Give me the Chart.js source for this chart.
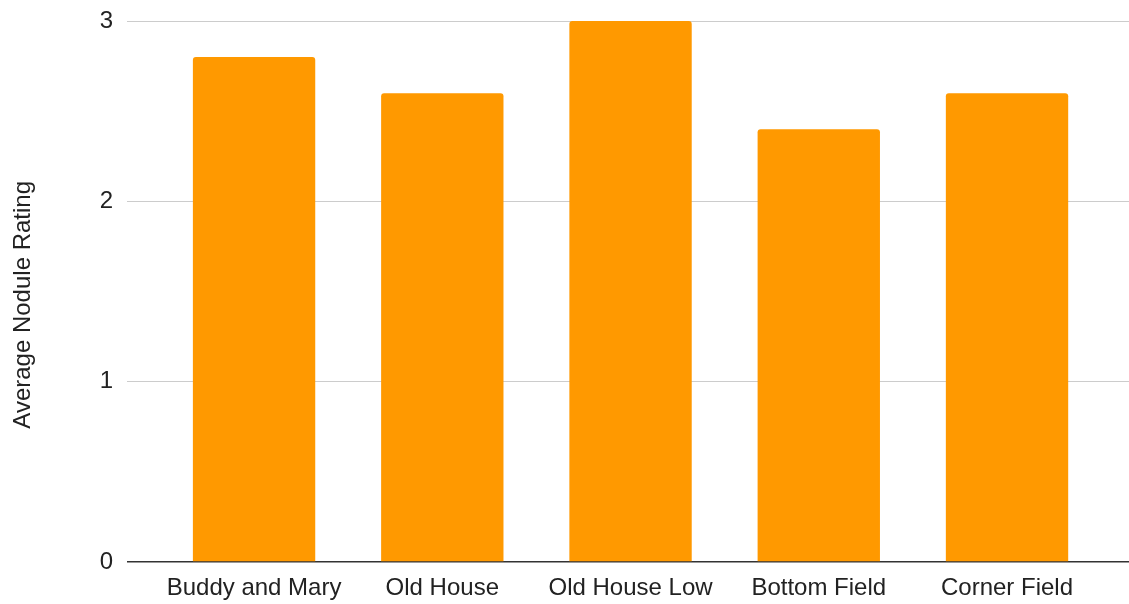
<!DOCTYPE html>
<html>
<head>
<meta charset="utf-8">
<script src="https://cdn.jsdelivr.net/npm/chart.js@4/dist/chart.umd.min.js"></script>
<style>
  html, body { margin: 0; padding: 0; background: #fff; }
  #wrap { width: 1129px; height: 604px; position: relative; }
</style>
</head>
<body>
<div id="wrap"><canvas id="chart"></canvas></div>
<script>
var sites = ['Buddy and Mary', 'Old House', 'Old House Low', 'Bottom Field', 'Corner Field']
var nodule_rating = [2.8, 2.6, 3.0, 2.4, 2.6]
var y_ticks = [0, 1, 2, 3]

var font_family = '"Liberation Sans", Arial, sans-serif'
var text_color = '#222222'

// leave some empty room on both sides of the category band, like the spreadsheet charts do
function pad_categories(scale) {
    scale._startValue = -0.675
    scale._valueRange = 5.323
}

new Chart(document.getElementById('chart'), {
    type: 'bar',
    data: {
        labels: sites,
        datasets: [{
            label: 'Average Nodule Rating',
            data: nodule_rating,
            backgroundColor: '#ff9900',
            borderRadius: { topLeft: 3, topRight: 3, bottomLeft: 0, bottomRight: 0 },
            borderSkipped: 'start',
            barPercentage: 0.65,
            categoryPercentage: 1
        }]
    },
    options: {
        responsive: true,
        maintainAspectRatio: false,
        animation: false,
        layout: { padding: { top: 21, right: 0, bottom: 0, left: 0 } },
        plugins: {
            legend: { display: false },
            tooltip: { enabled: false }
        },
        scales: {
            x: {
                offset: true,
                grid: { display: false },
                border: { display: false },
                ticks: {
                    color: text_color,
                    padding: 4,
                    maxRotation: 0,
                    font: { family: font_family, size: 24 }
                },
                afterBuildTicks: pad_categories,
                afterFit: function (scale) {
                    scale.height = 42
                    scale.paddingLeft = 0
                    scale.paddingRight = 0
                }
            },
            y: {
                min: 0,
                max: 3,
                afterBuildTicks: function (scale) {
                    scale.ticks = y_ticks.map(function (v) { return { value: v } })
                },
                border: { display: false },
                grid: {
                    drawTicks: false,
                    lineWidth: function (ctx) { return ctx.tick && ctx.tick.value === 0 ? 1.5 : 1 },
                    color: function (ctx) { return ctx.tick && ctx.tick.value === 0 ? '#333333' : '#cccccc' }
                },
                ticks: {
                    color: text_color,
                    padding: 14,
                    font: { family: font_family, size: 24 }
                },
                title: {
                    display: true,
                    // trailing spaces push the rotated title a little lower, to the middle of the canvas
                    text: 'Average Nodule Rating    ',
                    color: text_color,
                    padding: { top: 9, bottom: 0 },
                    font: { family: font_family, size: 24 }
                },
                afterFit: function (scale) {
                    scale.width = 127
                    scale.paddingTop = 0
                    scale.paddingBottom = 0
                }
            }
        }
    }
})
</script>
</body>
</html>
